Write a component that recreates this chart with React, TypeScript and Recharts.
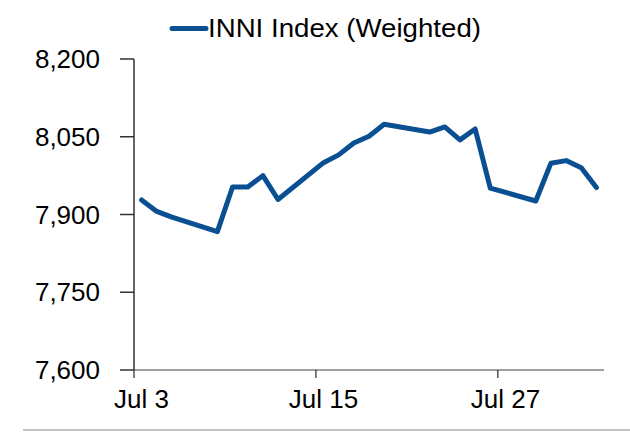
import React from "react";
import { LineChart, Line, XAxis, YAxis } from "recharts";

const dates = [
  "2019-07-03", "2019-07-04", "2019-07-05", "2019-07-08", "2019-07-09", "2019-07-10",
  "2019-07-11", "2019-07-12", "2019-07-15", "2019-07-16", "2019-07-17", "2019-07-18",
  "2019-07-19", "2019-07-22", "2019-07-23", "2019-07-24", "2019-07-25", "2019-07-26",
  "2019-07-29", "2019-07-30", "2019-07-31", "2019-08-01", "2019-08-02",
];
const inniValues = [
  7928, 7906, 7895, 7867, 7953, 7953,
  7975, 7929, 8000, 8015, 8038, 8051,
  8074, 8059, 8069, 8044, 8065, 7951,
  7926, 7999, 8004, 7990, 7952,
];
const yTicks = [7600, 7750, 7900, 8050, 8200];
const xTickDays = [0, 12, 24];
const xTickLabels = ["Jul 3", "Jul 15", "Jul 27"];
const seriesName = "INNI Index (Weighted)";

const START = "2019-07-03";
const DAYS = 31;
const DAY_MS = 24 * 3600 * 1000;

const W = 630;
const H = 432;
const PLOT_LEFT = 134;
const PLOT_RIGHT = 604;
const HALF_SLOT = (PLOT_RIGHT - PLOT_LEFT) / DAYS / 2;
const FONT = "'Liberation Sans', Arial, sans-serif";
const BLUE = "#0b4f93";

const data = dates.map((d, i) => ({
  day: (Date.parse(d) - Date.parse(START)) / DAY_MS + 0.5,
  value: inniValues[i],
}));

function DateTick(props: any) {
  const { x, y, payload } = props;
  const idx = xTickDays.indexOf(payload.value);
  return (
    <text
      x={x + HALF_SLOT}
      y={y}
      dy="0.71em"
      textAnchor="middle"
      fontSize={26}
      fontFamily={FONT}
      fill="#000"
    >
      {idx >= 0 ? xTickLabels[idx] : ""}
    </text>
  );
}

export default function App() {
  return (
    <div style={{ position: "absolute", left: 0, top: 0, width: W, height: H, background: "#fff" }}>
      <LineChart
        width={W}
        height={H}
        data={data}
        margin={{ top: 59, right: W - PLOT_RIGHT, bottom: 22, left: 0 }}
      >
        <XAxis
          dataKey="day"
          type="number"
          domain={[0, DAYS]}
          ticks={xTickDays}
          tick={<DateTick />}
          tickSize={8}
          tickMargin={12}
          height={40}
          axisLine={{ stroke: "#808080", strokeWidth: 1.5 }}
          tickLine={{ stroke: "#000", strokeWidth: 1 }}
          allowDataOverflow
        />
        <YAxis
          type="number"
          domain={[7600, 8200]}
          ticks={yTicks}
          width={PLOT_LEFT}
          tickSize={14}
          tickMargin={20}
          tickFormatter={(v: number) => v.toLocaleString("en-US")}
          tick={{ fontSize: 26, fontFamily: FONT, fill: "#000" }}
          axisLine={{ stroke: "#333", strokeWidth: 1.5 }}
          tickLine={{ stroke: "#333", strokeWidth: 1.5 }}
          allowDataOverflow
        />
        <Line
          type="linear"
          dataKey="value"
          name={seriesName}
          stroke={BLUE}
          strokeWidth={5}
          strokeLinejoin="round"
          strokeLinecap="round"
          dot={false}
          activeDot={false}
          isAnimationActive={false}
        />
      </LineChart>
      <svg
        width={W}
        height={50}
        style={{ position: "absolute", left: 0, top: 0, pointerEvents: "none" }}
      >
        <line x1={172} y1={28.5} x2={206} y2={28.5} stroke={BLUE} strokeWidth={5} strokeLinecap="round" />
        <text
          x={208}
          y={37}
          fontSize={26}
          fontFamily={FONT}
          fill="#000"
          textLength={273}
          lengthAdjust="spacingAndGlyphs"
        >
          {seriesName}
        </text>
      </svg>
      <div
        style={{
          position: "absolute",
          left: 23,
          top: 429,
          width: W - 23,
          height: 2,
          background: "#c4c4c4",
        }}
      />
    </div>
  );
}
